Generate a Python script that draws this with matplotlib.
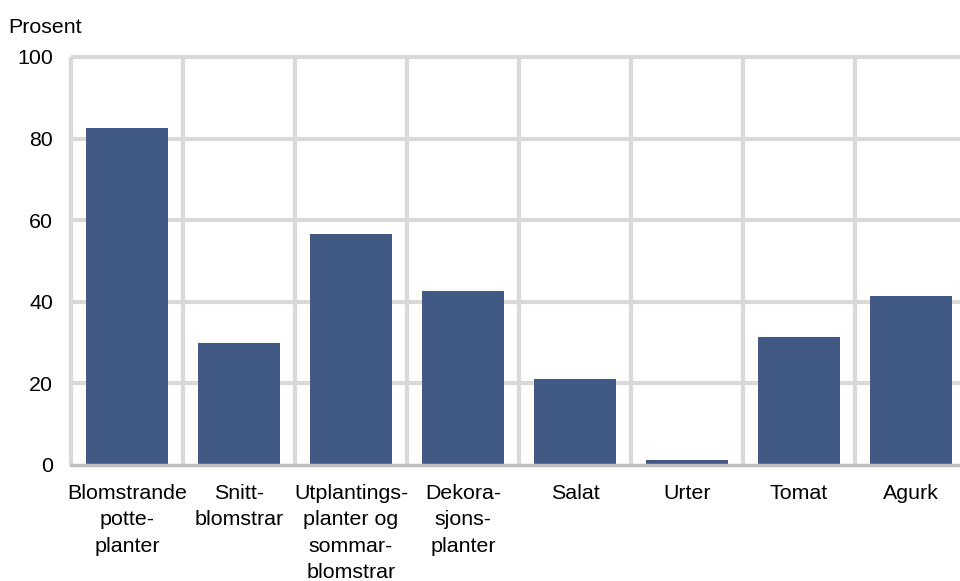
import matplotlib.pyplot as plt
import numpy as np

plt.rcParams['font.family'] = ['Liberation Sans', 'DejaVu Sans']

# Data
categories = ['Blomstrande\npotte-\nplanter', 'Snitt-\nblomstrar',
              'Utplantings-\nplanter og\nsommar-\nblomstrar', 'Dekora-\nsjons-\nplanter',
              'Salat', 'Urter', 'Tomat', 'Agurk']
values = [82.7, 29.8, 56.6, 42.7, 21.1, 1.2, 31.4, 41.3]
yticks = [0, 20, 40, 60, 80, 100]

bar_color = '#415a85'
grid_color = '#d9d9d9'

fig = plt.figure(figsize=(9.6, 5.81), dpi=100)
ax = fig.add_axes([71 / 960, 116 / 581, 896 / 960, 408 / 581])

x = np.arange(len(categories))
ax.bar(x, values, width=0.73, color=bar_color, zorder=3)

ax.set_xlim(-0.5, len(categories) - 0.5)
ax.set_ylim(0, 100)

# gridlines: horizontal at ticks, vertical between categories
ax.hlines(yticks[1:], -0.5, len(categories) - 0.5, colors=grid_color,
          linewidth=3, zorder=1, clip_on=False)
ax.vlines(np.arange(len(categories) + 1) - 0.5, 0, 100, colors=grid_color,
          linewidth=3, zorder=1, clip_on=False)

for s in ['top', 'right', 'left']:
    ax.spines[s].set_visible(False)
ax.spines['bottom'].set_color('#bfbfbf')
ax.spines['bottom'].set_linewidth(2.5)
ax.spines['bottom'].set_zorder(4)

ax.set_yticks(yticks)
ax.set_yticklabels([str(v) for v in yticks], fontsize=15.4)
ax.set_xticks(x)
ax.set_xticklabels(categories, fontsize=15.4, linespacing=1.47)
ax.tick_params(axis='both', length=0)
ax.tick_params(axis='y', pad=13)
ax.tick_params(axis='x', pad=14)

fig.text(8 / 960, 1 - 33 / 581, 'Prosent', fontsize=15.4, va='baseline', ha='left')

fig.savefig('out.png', dpi=100)
